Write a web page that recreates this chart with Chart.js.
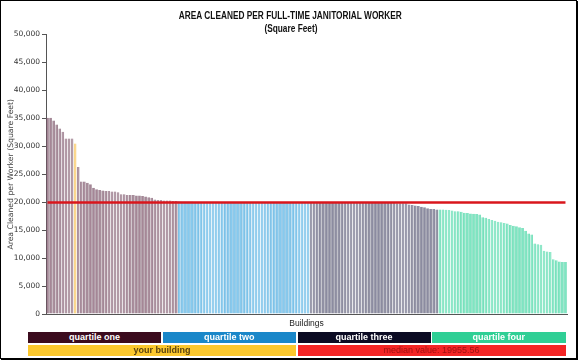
<!DOCTYPE html>
<html>
<head>
<meta charset="utf-8">
<script src="https://cdn.jsdelivr.net/npm/chart.js@4.4.1/dist/chart.umd.min.js"></script>
<style>
  html, body { margin: 0; padding: 0; background: #fff; }
  #wrap { position: relative; width: 581px; height: 362px; overflow: hidden; }
  #frame { position: absolute; left: 0; top: 0; width: 575px; height: 357px; border: 1px solid #000; box-shadow: 1px 1px 0 #000; pointer-events: none; }
  canvas { position: absolute; left: 0; top: 0; }
  .ttl { position: absolute; left: 0; width: 581px; text-align: center; font-family: "Liberation Sans Narrow", "Liberation Sans", Arial, sans-serif; font-weight: bold; font-size: 10px; line-height: 12px; color: #111; }
  .ttl span { display: inline-block; transform: scaleX(0.83); transform-origin: center; white-space: nowrap; }
  .lg { position: absolute; height: 11px; line-height: 11px; text-align: center; font-family: "Liberation Sans", Arial, sans-serif; font-weight: bold; font-size: 9px; color: #fff; white-space: nowrap; }
</style>
</head>
<body>
<div id="wrap">
  <canvas id="c" width="581" height="362"></canvas>
  <div class="ttl" id="t1" style="top:10px;"><span></span></div>
  <div class="ttl" id="t2" style="top:23px;"><span></span></div>
  <div id="legend"></div>
  <div id="frame"></div>
</div>
<script>
// ---- data ----
const titleText = "AREA CLEANED PER FULL-TIME JANITORIAL WORKER";
const subtitleText = "(Square Feet)";
const yAxisTitle = "Area Cleaned per Worker (Square Feet)";
const xAxisTitle = "Buildings";
const quartileNames = ["quartile one", "quartile two", "quartile three", "quartile four"];
const yourBuildingLabel = "your building";
const medianValue = 19955.56;
const yourBuildingIndex = 9;
const yTicks = [0, 5000, 10000, 15000, 20000, 25000, 30000, 35000, 40000, 45000, 50000];

const quartileOne = [35100, 35100, 34600, 33900, 33200, 32600, 31400, 31400, 31400, 30500,
  26300, 23700, 23700, 23500, 23200, 22600, 22300, 22200, 22100, 22000,
  22000, 21900, 21900, 21800, 21400, 21400, 21300, 21300, 21300, 21200,
  21200, 21100, 21000, 20900, 20800, 20500, 20400, 20400, 20300, 20300,
  20300, 20200, 20200];
const quartileTwo = [20150, 20140, 20130, 20120, 20110, 20100, 20100, 20090, 20080, 20080,
  20070, 20060, 20060, 20050, 20050, 20040, 20040, 20030, 20030, 20020,
  20020, 20010, 20010, 20010, 20000, 20000, 20000, 19990, 19990, 19990,
  19980, 19980, 19980, 19980, 19970, 19970, 19970, 19970, 19960, 19960,
  19960, 19960, 19960];
const quartileThree = [19950, 19940, 19940, 19930, 19930, 19920, 19920, 19910, 19910, 19900,
  19900, 19900, 19890, 19890, 19890, 19880, 19880, 19880, 19870, 19870,
  19870, 19860, 19860, 19860, 19850, 19850, 19840, 19840, 19830, 19830,
  19820, 19810, 19600, 19500, 19400, 19300, 19200, 19100, 18900, 18800,
  18800, 18700];
const quartileFour = [18700, 18700, 18650, 18600, 18500, 18400, 18400, 18300, 18100, 18050,
  18000, 17950, 17900, 17800, 17300, 17200, 17000, 16800, 16700, 16500,
  16400, 16300, 16200, 15900, 15800, 15700, 15500, 15400, 14900, 14400,
  14200, 12600, 12500, 12400, 11300, 11200, 11100, 9800, 9600, 9400,
  9300, 9300];

// ---- styles ----
const barFill = ['#a58696', '#86caef', '#8b8ba0', '#7ee6c2'];
const barEdge = ['#765366', '#3f9fd4', '#585871', '#3acd9a'];
const yourFill = '#fdd27a', yourEdge = '#f3b93c';
const legendColors = ['#3b0b1e', '#1a87c9', '#0b0b23', '#2fcf95'];
const medianColor = '#d9161c';

// ---- build ----
const quartiles = [quartileOne, quartileTwo, quartileThree, quartileFour];
const values = [].concat(...quartiles);
const labels = values.map((_, i) => 'Building ' + (i + 1));
const fills = [], edges = [];
quartiles.forEach((q, qi) => q.forEach(() => { fills.push(barFill[qi]); edges.push(barEdge[qi]); }));
fills[yourBuildingIndex] = yourFill; edges[yourBuildingIndex] = yourEdge;
const medianLine = values.map(() => medianValue);

document.querySelector('#t1 span').textContent = titleText;
document.querySelector('#t2 span').textContent = subtitleText;

const fmt = v => v.toLocaleString('en-US');

new Chart(document.getElementById('c'), {
  type: 'bar',
  data: {
    labels: labels,
    datasets: [
      { type: 'line', data: medianLine, borderColor: medianColor, borderWidth: 2.6, pointRadius: 0, order: 0, borderCapStyle: 'butt' },
      { type: 'bar', data: values, backgroundColor: fills, borderColor: edges,
        borderWidth: { left: 0.7, right: 0.7, top: 0, bottom: 0 }, borderSkipped: false,
        barPercentage: 0.84, categoryPercentage: 1, order: 1 }
    ]
  },
  options: {
    responsive: false, animation: false, devicePixelRatio: 1,
    layout: { padding: { top: 34.5, right: 14, bottom: 32, left: 0 } },
    plugins: { legend: { display: false }, tooltip: { enabled: false }, title: { display: false } },
    scales: {
      x: {
        offset: true,
        grid: { display: false },
        ticks: { display: false },
        border: { display: true, color: '#555', width: 1 },
        title: { display: true, text: xAxisTitle, color: '#222', font: { family: 'Liberation Sans', size: 8.5 }, padding: { top: 0, bottom: 1 } },
        afterFit: s => { s.height = 16; }
      },
      y: {
        min: 0, max: 50000,
        afterBuildTicks: s => { s.ticks = yTicks.map(v => ({ value: v })); },
        ticks: { color: '#333', padding: 2, font: { family: 'DejaVu Sans', size: 7.5 }, callback: v => fmt(v) },
        grid: { drawOnChartArea: false, drawTicks: true, tickLength: 4, color: '#555' },
        border: { display: true, color: '#555', width: 1 },
        title: { display: true, text: yAxisTitle, color: '#444', font: { family: 'DejaVu Sans', size: 7.7 }, padding: { top: 6, bottom: 0 } },
        afterFit: s => { s.width = 46; }
      }
    }
  }
});

// ---- legend (HTML text) ----
const lg = document.getElementById('legend');
const L = 28, R = 567, gap = 1.5;
const qw = (R - L) / 4;
quartileNames.forEach((name, i) => {
  const d = document.createElement('div');
  d.className = 'lg';
  d.textContent = name;
  d.style.left = (L + i * qw) + 'px';
  d.style.width = (qw - gap) + 'px';
  d.style.top = '332px';
  d.style.background = legendColors[i];
  lg.appendChild(d);
});
const hw = (R - L) / 2;
const yb = document.createElement('div');
yb.className = 'lg'; yb.textContent = yourBuildingLabel;
yb.style.left = L + 'px'; yb.style.width = (hw - gap) + 'px'; yb.style.top = '344.5px';
yb.style.background = '#fcc82e'; yb.style.color = '#5a4310';
lg.appendChild(yb);
const md = document.createElement('div');
md.className = 'lg'; md.textContent = 'median value: ' + medianValue;
md.style.left = (L + hw) + 'px'; md.style.width = (hw - gap) + 'px'; md.style.top = '344.5px';
md.style.background = '#f42525'; md.style.color = '#a01212'; md.style.fontWeight = 'normal';
lg.appendChild(md);
</script>
</body>
</html>
